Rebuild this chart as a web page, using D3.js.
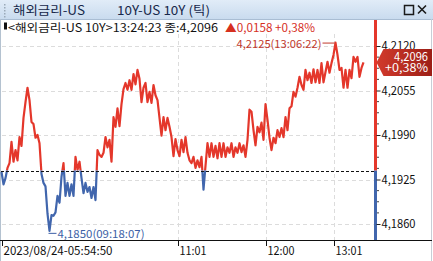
<!DOCTYPE html>
<html>
<head>
<meta charset="utf-8">
<script src="https://cdn.jsdelivr.net/npm/d3@7"></script>
<style>
  body { margin: 0; background: #fff; }
  text { font-family: "Noto Sans CJK KR", "DejaVu Sans", sans-serif; }
</style>
</head>
<body>
<div id="chart"></div>
<script>
// tick prices, one every 2px on screen
var prices = [
  4.1936, 4.1918, 4.1927, 4.1942, 4.1949, 4.1980, 4.1951, 4.1968, 4.1953, 4.1987,
  4.1974, 4.2015, 4.2038, 4.2059, 4.2041, 4.2009, 4.2006, 4.1986, 4.1990, 4.1978,
  4.1933, 4.1920, 4.1915, 4.1875, 4.1850, 4.1873, 4.1872, 4.1877, 4.1901, 4.1891,
  4.1929, 4.1949, 4.1901, 4.1920, 4.1901, 4.1918, 4.1901, 4.1958, 4.1939, 4.1951,
  4.1927, 4.1905, 4.1920, 4.1907, 4.1914, 4.1898, 4.1914, 4.1895, 4.1968, 4.1961,
  4.1958, 4.1964, 4.1987, 4.1972, 4.1983, 4.1951, 4.2016, 4.2002, 4.2029, 4.2003,
  4.2035, 4.2057, 4.2066, 4.2056, 4.2070, 4.2056, 4.2079, 4.2064, 4.2085, 4.2072,
  4.2038, 4.2059, 4.2066, 4.2038, 4.2053, 4.2037, 4.2063, 4.2048, 4.2041, 4.2015,
  4.1989, 4.2016, 4.1997, 4.2015, 4.2002, 4.1987, 4.1959, 4.1984, 4.1968, 4.1959,
  4.1983, 4.1965, 4.1987, 4.1964, 4.1953, 4.1949, 4.1958, 4.1942, 4.1953, 4.1943,
  4.1958, 4.1910, 4.1945, 4.1978, 4.1958, 4.1978, 4.1958, 4.1974, 4.1956, 4.1978,
  4.1958, 4.1978, 4.1958, 4.1972, 4.1964, 4.1978, 4.1958, 4.1972, 4.1964, 4.1978,
  4.1965, 4.1975, 4.1958, 4.1983, 4.2027, 4.2024, 4.1997, 4.1975, 4.2002, 4.1994,
  4.2008, 4.1983, 4.2035, 4.2012, 4.1986, 4.1968, 4.1986, 4.1978, 4.1997, 4.1987,
  4.2000, 4.1987, 4.2016, 4.1997, 4.2029, 4.2032, 4.2053, 4.2046, 4.2059, 4.2075,
  4.2063, 4.2056, 4.2085, 4.2070, 4.2081, 4.2066, 4.2086, 4.2067, 4.2085, 4.2066,
  4.2095, 4.2067, 4.2082, 4.2097, 4.2081, 4.2095, 4.2107, 4.2125, 4.2107, 4.2085,
  4.2088, 4.2059, 4.2085, 4.2059, 4.2085, 4.2073, 4.2104, 4.2097, 4.2104, 4.2075,
  4.2088, 4.2096
];

var prevClose = 4.1938;
var lastPrice = 4.2096;
var changeAbs = "0,0158";
var changePct = "+0,38%";

var yTickValues = [4.2120, 4.2055, 4.1990, 4.1925, 4.1860];
var timeTickIdx = [0, 88, 132, 166];
var timeTickLabels = ["2023/08/24-05:54:50", "11:01", "12:00", "13:01"];

var hiTime = "13:06:22";
var loTime = "09:18:07";

var titleLeft = "해외금리-US";
var titleRight = "10Y-US 10Y (틱)";
var infoText = "<해외금리-US 10Y>13:24:23 종:4,2096";

var W = 433, H = 261;
var red = "#e4372b", blue = "#4166ad";
var plotTop = 20, plotBottom = 240, axisX = 375.5;

function fmt(v) { return v.toFixed(4).replace(".", ","); }

var svg = d3.select("#chart").append("svg")
  .attr("width", W).attr("height", H);

var defs = svg.append("defs");

// scales
var x = d3.scaleLinear().domain([0, prices.length - 1]).range([1.5, 363.5]);
var y = d3.scaleLinear().domain([4.186, 4.212]).range([224, 46]);
var yPrev = y(prevClose);

// ---- title bar ----
var tg = defs.append("linearGradient").attr("id", "tbar").attr("x1", 0).attr("y1", 0).attr("x2", 0).attr("y2", 1);
tg.append("stop").attr("offset", 0).attr("stop-color", "#e1ecf8");
tg.append("stop").attr("offset", 1).attr("stop-color", "#c9dbee");
svg.append("rect").attr("x", 0).attr("y", 0).attr("width", W).attr("height", 19).attr("fill", "url(#tbar)");
svg.append("line").attr("x1", 0).attr("x2", W).attr("y1", 19.5).attr("y2", 19.5).attr("stroke", "#a9bdd3");
for (var gy = 4; gy < 17; gy += 3) {
  svg.append("rect").attr("x", 4).attr("y", gy).attr("width", 1.5).attr("height", 1.5).attr("fill", "#9aa9b8");
}
svg.append("text").attr("x", 13).attr("y", 15).attr("font-size", 12.5).attr("fill", "#17284a")
  .attr("textLength", 72).attr("lengthAdjust", "spacingAndGlyphs").text(titleLeft);
svg.append("text").attr("x", 117).attr("y", 15).attr("font-size", 12.5).attr("fill", "#17284a")
  .attr("textLength", 93).attr("lengthAdjust", "spacingAndGlyphs").text(titleRight);
// window buttons
svg.append("rect").attr("x", 404.5).attr("y", 5.5).attr("width", 9).attr("height", 9)
  .attr("fill", "none").attr("stroke", "#1a1a1a").attr("stroke-width", 1.5);
svg.append("path").attr("d", "M418,5.5L426,13.5M426,5.5L418,13.5")
  .attr("stroke", "#1a1a1a").attr("stroke-width", 1.6);

// window borders
svg.append("line").attr("x1", 0.5).attr("x2", 0.5).attr("y1", 19).attr("y2", H).attr("stroke", "#b4c2d0");
svg.append("line").attr("x1", 431.5).attr("x2", 431.5).attr("y1", 19).attr("y2", H).attr("stroke", "#c8ced6");

// ---- info line ----
svg.append("rect").attr("x", 4).attr("y", 22.5).attr("width", 3).attr("height", 7).attr("fill", "#111");
svg.append("text").attr("x", 8).attr("y", 31.5).attr("font-size", 11.5).attr("fill", "#111")
  .attr("textLength", 210).attr("lengthAdjust", "spacingAndGlyphs").text(infoText);
svg.append("text").attr("x", 225).attr("y", 31.5).attr("font-size", 11.5).attr("fill", "#d6301f")
  .attr("textLength", 90).attr("lengthAdjust", "spacingAndGlyphs").text("▲" + changeAbs + " " + changePct);

// ---- grid ----
svg.append("g").selectAll("line").data(yTickValues).enter().append("line")
  .attr("x1", 2).attr("x2", axisX - 2)
  .attr("y1", function(d) { return Math.round(y(d)) + 0.5; })
  .attr("y2", function(d) { return Math.round(y(d)) + 0.5; })
  .attr("stroke", "#dcdcdc").attr("stroke-dasharray", "4,3");

svg.append("g").selectAll("line").data(timeTickIdx.slice(1)).enter().append("line")
  .attr("x1", function(d) { return Math.round(x(d)) + 0.5; })
  .attr("x2", function(d) { return Math.round(x(d)) + 0.5; })
  .attr("y1", 34).attr("y2", plotBottom)
  .attr("stroke", "#dcdcdc").attr("stroke-dasharray", "4,3");

// ---- price line, red above previous close, blue below ----
defs.append("clipPath").attr("id", "above").append("rect")
  .attr("x", 0).attr("y", 0).attr("width", axisX).attr("height", yPrev);
defs.append("clipPath").attr("id", "below").append("rect")
  .attr("x", 0).attr("y", yPrev).attr("width", axisX).attr("height", plotBottom - yPrev);

var line = d3.line()
  .x(function(d, i) { return x(i); })
  .y(function(d) { return y(d); });

svg.append("path").datum(prices).attr("d", line).attr("clip-path", "url(#above)")
  .attr("fill", "none").attr("stroke", red).attr("stroke-width", 2.2).attr("stroke-linejoin", "round");
svg.append("path").datum(prices).attr("d", line).attr("clip-path", "url(#below)")
  .attr("fill", "none").attr("stroke", blue).attr("stroke-width", 2.2).attr("stroke-linejoin", "round");

// previous close
svg.append("line").attr("x1", 1).attr("x2", axisX)
  .attr("y1", Math.round(yPrev) + 0.5).attr("y2", Math.round(yPrev) + 0.5)
  .attr("stroke", "#111").attr("stroke-dasharray", "3,2");

// ---- high / low labels ----
var hiIdx = prices.indexOf(d3.max(prices));
var loIdx = prices.indexOf(d3.min(prices));
var hx = x(hiIdx), hy = y(prices[hiIdx]);
svg.append("line").attr("x1", hx - 13).attr("x2", hx - 1).attr("y1", hy + 0.5).attr("y2", hy + 0.5)
  .attr("stroke", "#c0392b");
svg.append("text").attr("x", hx - 14).attr("y", hy + 5).attr("text-anchor", "end")
  .attr("font-size", 11).attr("fill", "#c0392b")
  .attr("textLength", 85).attr("lengthAdjust", "spacingAndGlyphs")
  .text(fmt(prices[hiIdx]) + "(" + hiTime + ")");

var lx = x(loIdx), ly = y(prices[loIdx]);
svg.append("line").attr("x1", lx - 1).attr("x2", lx + 7).attr("y1", ly + 2.5).attr("y2", ly + 2.5)
  .attr("stroke", "#3d5fa6");
svg.append("text").attr("x", lx + 8).attr("y", ly + 7).attr("font-size", 11).attr("fill", "#3d5fa6")
  .attr("textLength", 87).attr("lengthAdjust", "spacingAndGlyphs")
  .text(fmt(prices[loIdx]) + "(" + loTime + ")");

// ---- right axis ----
svg.append("line").attr("x1", axisX).attr("x2", axisX).attr("y1", plotTop).attr("y2", yPrev)
  .attr("stroke", red).attr("stroke-width", 3);
svg.append("line").attr("x1", axisX).attr("x2", axisX).attr("y1", yPrev).attr("y2", plotBottom)
  .attr("stroke", blue).attr("stroke-width", 3);

var yAxis = d3.axisRight(y).tickValues(yTickValues).tickSize(4).tickPadding(1).tickFormat(fmt);
var ya = svg.append("g").attr("transform", "translate(" + (axisX + 1) + ",0)").call(yAxis);
ya.select(".domain").remove();
ya.selectAll("line").attr("stroke", "#222");
ya.selectAll("text").attr("font-size", 11.5).attr("fill", "#111")
  .attr("textLength", 34).attr("lengthAdjust", "spacingAndGlyphs")
  .style("font-family", "'Noto Sans CJK KR', sans-serif");

// minor ticks, 4 steps between labels
var minor = [];
for (var k = 0; k < yTickValues.length - 1; k++) {
  var step = (yTickValues[k] - yTickValues[k + 1]) / 4;
  for (var m = 1; m < 4; m++) minor.push(yTickValues[k] - step * m);
}
svg.append("g").selectAll("line").data(minor).enter().append("line")
  .attr("x1", axisX + 1.5).attr("x2", axisX + 3.5)
  .attr("y1", function(d) { return y(d); }).attr("y2", function(d) { return y(d); })
  .attr("stroke", "#444");

// ---- last price tag ----
var lg = defs.append("linearGradient").attr("id", "tag").attr("x1", 0).attr("y1", 0).attr("x2", 1).attr("y2", 0);
lg.append("stop").attr("offset", 0).attr("stop-color", "#d23a2c");
lg.append("stop").attr("offset", 1).attr("stop-color", "#9c1f17");
var ty = y(lastPrice);
svg.append("path")
  .attr("d", "M" + (axisX + 1) + "," + ty + "L" + (axisX + 8) + "," + (ty - 13.5) + "L432," + (ty - 13.5) +
        "L432," + (ty + 13.5) + "L" + (axisX + 8) + "," + (ty + 13.5) + "Z")
  .attr("fill", "url(#tag)");
svg.append("text").attr("x", 428).attr("y", ty - 1.5).attr("text-anchor", "end")
  .attr("font-size", 11.5).attr("fill", "#fff")
  .attr("textLength", 34).attr("lengthAdjust", "spacingAndGlyphs").text(fmt(lastPrice));
svg.append("text").attr("x", 428).attr("y", ty + 10).attr("text-anchor", "end")
  .attr("font-size", 11.5).attr("fill", "#fff")
  .attr("textLength", 43).attr("lengthAdjust", "spacingAndGlyphs").text(changePct);

// ---- bottom time axis ----
svg.append("line").attr("x1", 0).attr("x2", 432).attr("y1", plotBottom + 0.5).attr("y2", plotBottom + 0.5)
  .attr("stroke", "#111");
var tx = svg.append("g");
tx.selectAll("line").data(timeTickIdx).enter().append("line")
  .attr("x1", function(d) { return Math.round(x(d)) + 0.5; })
  .attr("x2", function(d) { return Math.round(x(d)) + 0.5; })
  .attr("y1", plotBottom).attr("y2", plotBottom + 6)
  .attr("stroke", "#111");
var tw = [109, 27, 27, 27];
tx.selectAll("text").data(timeTickIdx).enter().append("text")
  .attr("x", function(d) { return Math.round(x(d)) + 1.5; })
  .attr("y", 255)
  .attr("font-size", 11.5).attr("fill", "#111")
  .attr("textLength", function(d, i) { return tw[i]; }).attr("lengthAdjust", "spacingAndGlyphs")
  .text(function(d, i) { return timeTickLabels[i]; });
</script>
</body>
</html>
